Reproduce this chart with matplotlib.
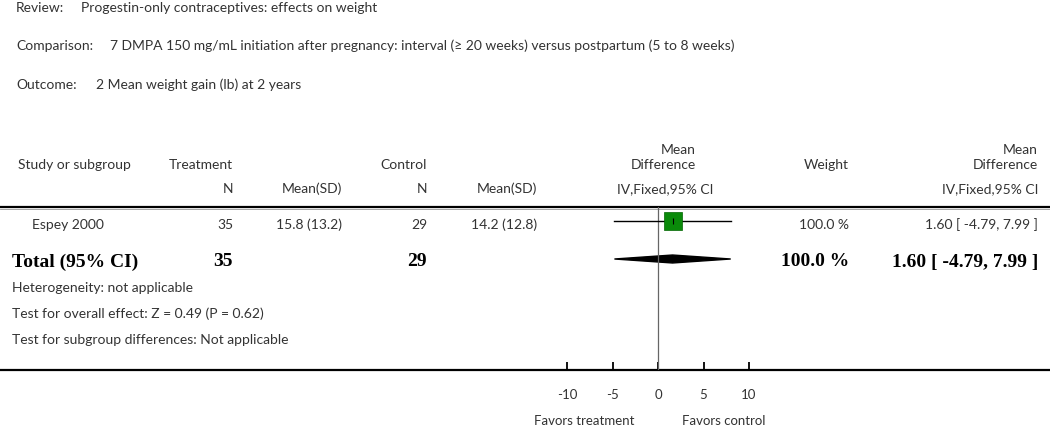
import matplotlib
matplotlib.use("Agg")
import matplotlib.pyplot as plt
from matplotlib.patches import Polygon

# Data
review = "Progestin-only contraceptives: effects on weight"
comparison = "7 DMPA 150 mg/mL initiation after pregnancy: interval (\u2265 20 weeks) versus postpartum (5 to 8 weeks)"
outcome = "2 Mean weight gain (lb) at 2 years"

studies = ["Espey 2000"]
treat_n = [35]
treat_mean_sd = ["15.8 (13.2)"]
ctrl_n = [29]
ctrl_mean_sd = ["14.2 (12.8)"]
md = [1.60]
ci_low = [-4.79]
ci_high = [7.99]
weights = [100.0]

total_md = 1.60
total_low = -4.79
total_high = 7.99
total_weight = 100.0

footer = ["Heterogeneity: not applicable",
          "Test for overall effect: Z = 0.49 (P = 0.62)",
          "Test for subgroup differences: Not applicable"]
xticks = [-10, -5, 0, 5, 10]

FONT = "Lato"
SERIF = "Liberation Serif"
TXT = "#333333"
FS = 10
SFS = 9.5
BFS = 14

W, H = 1050, 426
fig = plt.figure(figsize=(W / 100, H / 100), dpi=100)

# background axes in pixel coordinates for the table layout
bg = fig.add_axes([0, 0, 1, 1])
bg.set_xlim(0, W)
bg.set_ylim(H, 0)
bg.axis("off")

def t(x, y, s, ha="left", bold=False, size=FS):
    if bold:
        bg.text(x, y, s, ha=ha, va="center", fontsize=BFS, family=SERIF,
                fontweight="bold", color="black")
    else:
        bg.text(x, y, s, ha=ha, va="center", fontsize=size, family=FONT,
                color=TXT)

t(16, 8, "Review:")
t(81, 8, review)
t(16, 46, "Comparison:")
t(110, 46, comparison)
t(16, 85, "Outcome:")
t(96, 85, outcome)

# headers
t(18, 165, "Study or subgroup")
t(233, 165, "Treatment", ha="right")
t(427, 165, "Control", ha="right")
t(696, 150, "Mean", ha="right")
t(696, 165, "Difference", ha="right")
t(849, 165, "Weight", ha="right")
t(1038, 150, "Mean", ha="right")
t(1038, 165, "Difference", ha="right")
t(233, 189, "N", ha="right")
t(342, 189, "Mean(SD)", ha="right")
t(427, 189, "N", ha="right")
t(537, 189, "Mean(SD)", ha="right")
t(713, 189, "IV,Fixed,95% CI", ha="right")
t(1038, 189, "IV,Fixed,95% CI", ha="right")

bg.plot([0, W], [207, 207], color="black", lw=1.6, solid_capstyle="butt")
bg.plot([0, W], [208.5, 208.5], color="#999999", lw=0.6)
bg.plot([0, W], [370, 370], color="black", lw=1.6, solid_capstyle="butt")

row_y = [225]
for i, name in enumerate(studies):
    y = row_y[i]
    t(32, y, name)
    t(233, y, str(treat_n[i]), ha="right")
    t(342, y, treat_mean_sd[i], ha="right")
    t(427, y, str(ctrl_n[i]), ha="right")
    t(537, y, ctrl_mean_sd[i], ha="right")
    t(849, y, f"{weights[i]:.1f} %", ha="right")
    t(1038, y, f"{md[i]:.2f} [ {ci_low[i]:.2f}, {ci_high[i]:.2f} ]", ha="right")

total_y = 262
t(12, total_y, "Total (95% CI)", bold=True)
t(233, total_y, str(sum(treat_n)), ha="right", bold=True)
t(427, total_y, str(sum(ctrl_n)), ha="right", bold=True)
t(849, total_y, f"{total_weight:.1f} %", ha="right", bold=True)
t(1038, total_y, f"{total_md:.2f} [ {total_low:.2f}, {total_high:.2f} ]", ha="right", bold=True)

for k, line in enumerate(footer):
    t(12, 288 + 26 * k, line)

t(635, 421, "Favors treatment", ha="right", size=SFS)
t(682, 421, "Favors control", ha="left", size=SFS)

# forest plot axes: x from -10 to 10 maps to pixels 567..749
x0, x1 = 567, 749
top, bot = 207, 370
ax = fig.add_axes([x0 / W, (H - bot) / H, (x1 - x0) / W, (bot - top) / H])
ax.set_xlim(-10, 10)
ax.set_ylim(bot, top)
ax.patch.set_alpha(0)
for s in ax.spines.values():
    s.set_visible(False)
ax.set_yticks([])
ax.set_xticks(xticks)
ax.set_xticklabels([str(v) for v in xticks], fontsize=SFS, family=FONT, color=TXT)
ax.tick_params(axis="x", direction="in", length=5.5, width=1.3, pad=14, color="black")

ax.axvline(0, color="#666666", lw=0.9)
for i in range(len(studies)):
    y = row_y[i] - 4   # marks sit a little above the text baseline
    ax.plot([ci_low[i], ci_high[i]], [y, y], color="black", lw=1.0)
    ax.plot(md[i], y, marker="s", markersize=13, color="#0a8a0a",
            markeredgecolor="#006400", markeredgewidth=0.5)
    ax.plot(md[i], y, marker="|", markersize=4, color="black", mew=0.8)

dy = total_y - 3
diamond = Polygon([[total_low, dy], [total_md, dy - 4],
                   [total_high, dy], [total_md, dy + 4]],
                  closed=True, color="black")
ax.add_patch(diamond)

fig.savefig("out.png", dpi=100)
